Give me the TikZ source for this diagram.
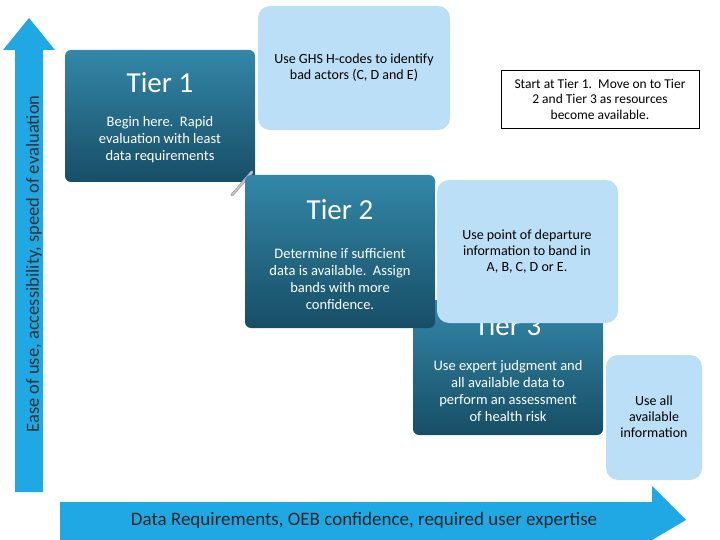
\documentclass[tikz,border=0pt]{standalone}
\usepackage{fontspec}
\setmainfont{Carlito}
\begin{document}
\begin{tikzpicture}[x=1pt,y=-1pt,
  tier/.style={rounded corners=6pt,top color=tealB,bottom color=tealA,draw=none},
  lb/.style={rounded corners=12pt,fill=lightb,draw=none},
  txt/.style={align=center,font=\fontsize{14}{16}\selectfont},
  wtxt/.style={txt,text=white,font=\fontsize{14.5}{17}\selectfont},
  ttl/.style={text=white,font=\fontsize{29}{31}\selectfont},
  arr/.style={fill=arrowc,draw=none}]
\definecolor{tealA}{HTML}{174E66}
\definecolor{tealB}{HTML}{3387A8}
\definecolor{lightb}{HTML}{BBDFF7}
\definecolor{arrowc}{HTML}{1FA8E3}
\useasboundingbox (0,0) rectangle (720,540);
% vertical arrow
\path[arr] (15,492) -- (15,50) -- (3,50) -- (29,18) -- (55,50) -- (43,50) -- (43,492) -- cycle;
\node[rotate=90,font=\fontsize{18.5}{20}\selectfont,text=black!80] (va) at (34,264) {Ease of use, accessibility, speed of evaluation};
% horizontal arrow
\path[arr] (60,502) -- (652,502) -- (652,486) -- (686,520) -- (652,540) -- (60,540) -- cycle;
\node[font=\fontsize{19}{21}\selectfont,text=black!85] (ha) at (364,520) {Data Requirements, OEB confidence, required user expertise};
% Tier 1
\path[tier] (65,50) rectangle (255,182);
\node[ttl] (t1) at (160,83) {Tier 1};
\node[wtxt] (t1d) at (160,140) {Begin here.\ \ Rapid\\evaluation with least\\data requirements};
% GHS box
\path[lb] (258,6) rectangle (450,130);
\node[txt] (ghs) at (354,68) {Use GHS H-codes to identify\\bad actors (C, D and E)};
% note
\node[draw=black,fill=white,minimum width=198,minimum height=58,inner sep=0] (note) at (600,99) {};
\node[txt,font=\fontsize{13.5}{15.5}\selectfont] (notet) at (600,99) {Start at Tier 1.\ \ Move on to Tier\\2 and Tier 3 as resources\\become available.};
% pen
\draw[gray!70,line width=3pt,line cap=round] (232,195) -- (252,172);
\draw[gray!40,line width=1pt] (232,195) -- (252,172);
% Tier 3
\path[tier] (413,300) rectangle (603,435);
\node[ttl] (t3) at (508,326) {Tier 3};
\node[wtxt] (t3d) at (508,391) {Use expert judgment and\\all available data to\\perform an assessment\\of health risk};
% Tier 2
\path[tier] (245,175) rectangle (435,328);
\node[ttl] (t2) at (340,210) {Tier 2};
\node[wtxt] (t2d) at (340,279) {Determine if sufficient\\data is available.\ \ Assign\\bands with more\\confidence.};
% POD box
\path[lb] (437,180) rectangle (618,323);
\node[txt] (pod) at (527,252) {Use point of departure\\information to band in\\A, B, C, D or E.};
% all info
\path[lb] (606,355) rectangle (702,480);
\node[txt] (all) at (654,417) {Use all\\available\\information};
\end{tikzpicture}
\end{document}
